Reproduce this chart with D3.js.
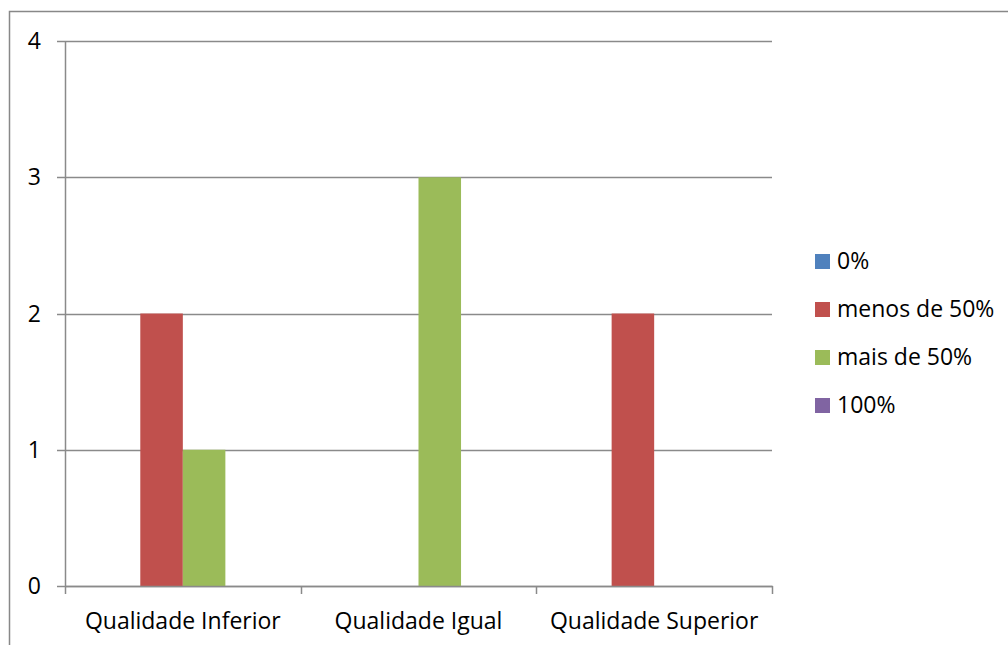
<!DOCTYPE html>
<html>
<head>
<meta charset="utf-8">
<script src="https://cdn.jsdelivr.net/npm/d3@7"></script>
<style>
  html, body { margin: 0; padding: 0; background: #fff; }
  svg { display: block; font-family: "Open Sans", "Noto Sans", sans-serif; }
</style>
</head>
<body>
<svg id="chart" width="1008" height="645"></svg>
<script>
const categories = ["Qualidade Inferior", "Qualidade Igual", "Qualidade Superior"];
const seriesNames = ["0%", "menos de 50%", "mais de 50%", "100%"];
const seriesColors = ["#4F81BD", "#C0504D", "#9BBB59", "#8064A2"];
const values0 = [0, 0, 0];
const valuesMenos50 = [2, 0, 2];
const valuesMais50 = [1, 3, 0];
const values100 = [0, 0, 0];
const yTicks = [0, 1, 2, 3, 4];

const seriesValues = [values0, valuesMenos50, valuesMais50, values100];

const svg = d3.select("#chart");
const plot = { left: 65, right: 772, top: 41, bottom: 586 };
const fontSize = 23;

// outer chart frame
svg.append("rect")
  .attr("x", 9.5).attr("y", 11.5)
  .attr("width", 1010).attr("height", 650)
  .attr("fill", "none").attr("stroke", "#888").attr("stroke-width", 1.5);

const y = d3.scaleLinear().domain([0, 4]).range([plot.bottom, plot.top]);
const x0 = d3.scaleBand().domain(categories).range([plot.left, plot.right]).paddingInner(0).paddingOuter(0);
const x1 = d3.scaleBand().domain(seriesNames).range([0, x0.bandwidth()]).paddingOuter(0.77).paddingInner(0);

// horizontal gridlines with left tick stubs
svg.append("g").selectAll("line").data(yTicks).join("line")
  .attr("x1", plot.left - 8).attr("x2", plot.right)
  .attr("y1", d => Math.round(y(d)) + 0.5).attr("y2", d => Math.round(y(d)) + 0.5)
  .attr("stroke", "#8a8a8a").attr("stroke-width", 1.5);

// bars
const groups = svg.append("g").selectAll("g").data(categories).join("g")
  .attr("transform", d => `translate(${x0(d)},0)`);
groups.selectAll("rect")
  .data((c, ci) => seriesNames.map((s, si) => ({ s, v: seriesValues[si][ci], color: seriesColors[si] })))
  .join("rect")
  .filter(d => d.v > 0)
  .attr("x", d => x1(d.s))
  .attr("width", x1.bandwidth())
  .attr("y", d => y(d.v))
  .attr("height", d => y(0) - y(d.v))
  .attr("fill", d => d.color);

// value axis line
svg.append("line")
  .attr("x1", plot.left + 0.5).attr("x2", plot.left + 0.5)
  .attr("y1", plot.top).attr("y2", plot.bottom + 1)
  .attr("stroke", "#8a8a8a").attr("stroke-width", 1.5);

// category axis line and tick marks
svg.append("line")
  .attr("x1", plot.left).attr("x2", plot.right + 1)
  .attr("y1", y(0) + 0.5).attr("y2", y(0) + 0.5)
  .attr("stroke", "#8a8a8a").attr("stroke-width", 1.5);
const boundaries = categories.map(c => x0(c)).concat([plot.right]);
svg.append("g").selectAll("line").data(boundaries).join("line")
  .attr("x1", d => Math.round(d) + 0.5).attr("x2", d => Math.round(d) + 0.5)
  .attr("y1", y(0)).attr("y2", y(0) + 8)
  .attr("stroke", "#8a8a8a").attr("stroke-width", 1.5);

// y tick labels
svg.append("g").selectAll("text").data(yTicks).join("text")
  .attr("x", 41).attr("y", d => y(d))
  .attr("dy", "0.35em")
  .attr("text-anchor", "end")
  .attr("font-size", fontSize)
  .attr("fill", "#000")
  .text(d => d);

// category labels
svg.append("g").selectAll("text").data(categories).join("text")
  .attr("x", d => x0(d) + x0.bandwidth() / 2)
  .attr("y", 629)
  .attr("text-anchor", "middle")
  .attr("font-size", fontSize)
  .attr("fill", "#000")
  .text(d => d);

// legend
const legendY = d3.scalePoint().domain(seriesNames).range([261, 405]);
const legend = svg.append("g").selectAll("g").data(seriesNames).join("g")
  .attr("transform", d => `translate(815,${legendY(d)})`);
legend.append("rect")
  .attr("x", 0).attr("y", -7)
  .attr("width", 15).attr("height", 15)
  .attr("fill", (d, i) => seriesColors[i]);
legend.append("text")
  .attr("x", 22).attr("y", 0)
  .attr("dy", "0.35em")
  .attr("font-size", fontSize)
  .attr("fill", "#000")
  .text(d => d);
</script>
</body>
</html>
